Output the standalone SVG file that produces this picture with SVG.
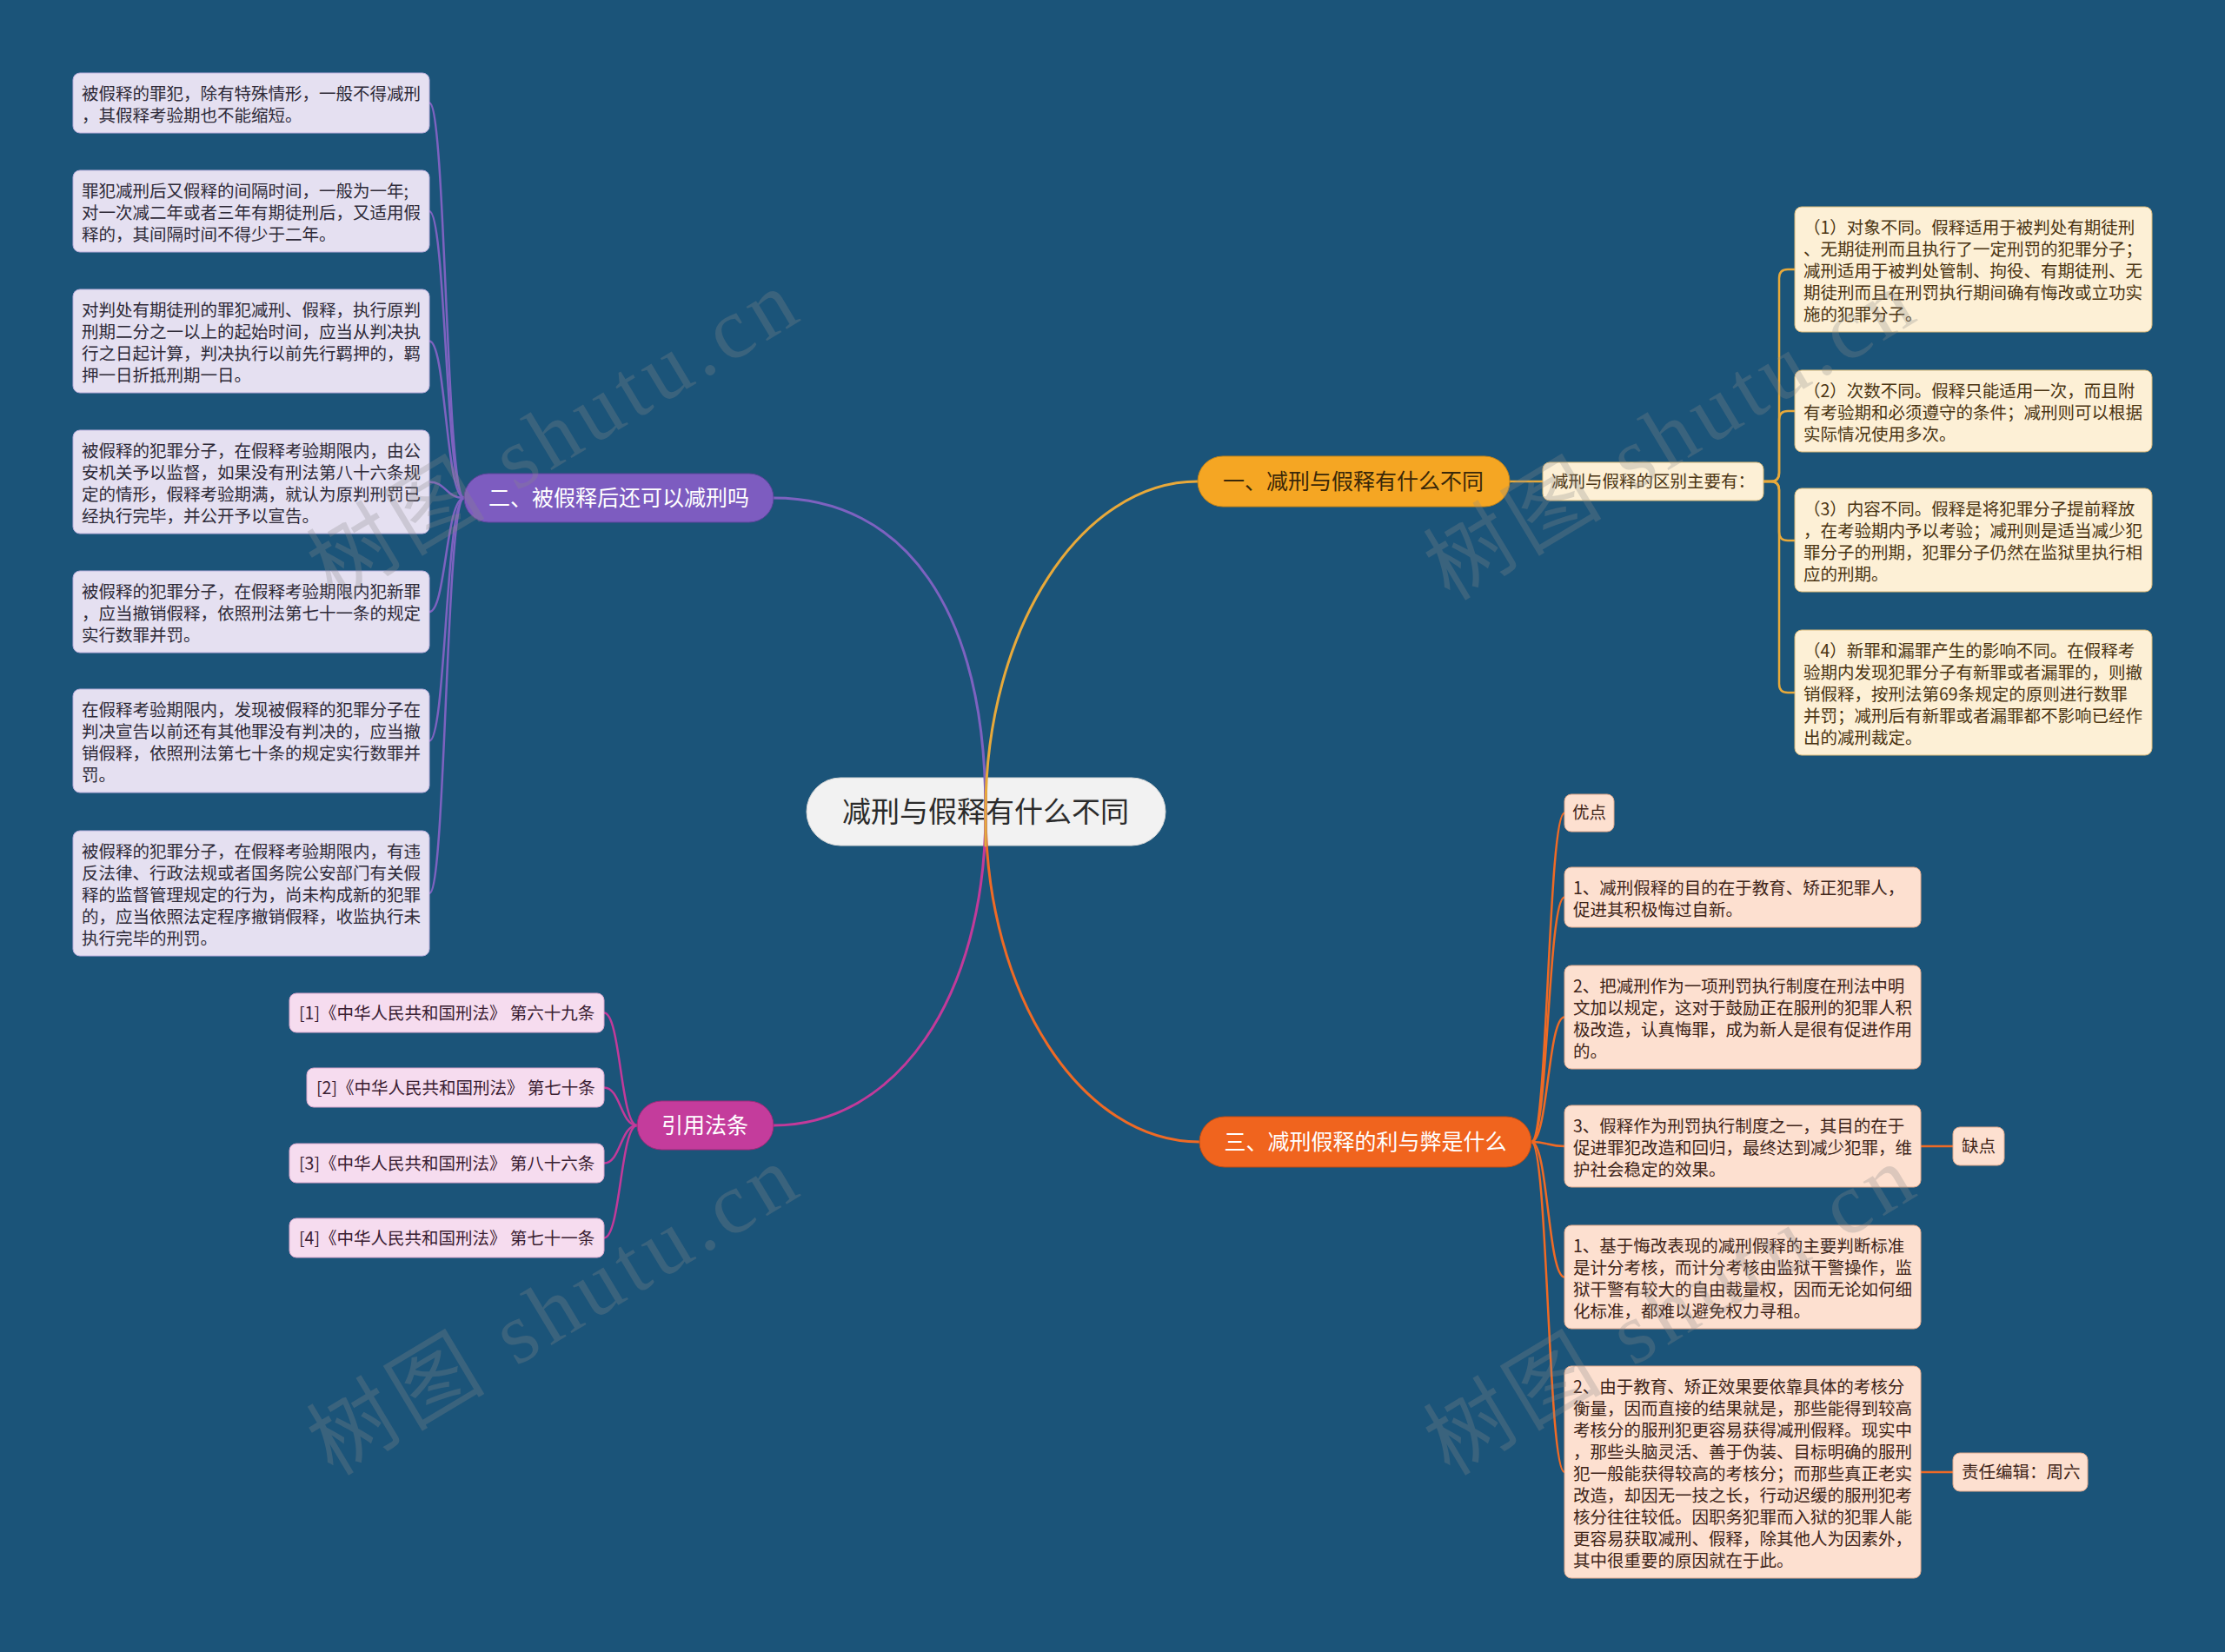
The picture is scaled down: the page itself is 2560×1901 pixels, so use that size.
<svg xmlns="http://www.w3.org/2000/svg" width="2560" height="1901" viewBox="0 0 2560 1901">
<defs>
<style>
text{font-family:"Noto Sans CJK SC","Liberation Sans",sans-serif;}
.leaf{font-size:19.5px;}
.pl rect{fill:#e5e0f1;stroke:#b9addb;stroke-width:1;}
.pl text{fill:#2e2a38;}
.yl rect{fill:#fdf0d6;stroke:#d8b878;stroke-width:1;}
.yl text{fill:#4a3412;}
.ml rect{fill:#f6dcef;stroke:#d9a6cc;stroke-width:1;}
.ml text{fill:#3a2032;}
.ol rect{fill:#fde0d0;stroke:#e2a98c;stroke-width:1;}
.ol text{fill:#3e2418;}
.br text{font-size:25px;}
.cn{fill:none;stroke-width:3;stroke-linecap:round;}
.cb{fill:none;stroke-width:2.5;}
.wm{font-family:"Liberation Serif","Noto Sans CJK SC",serif;font-size:100px;fill:#8a8a8a;opacity:0.28;}
</style>
</defs>
<rect x="0" y="0" width="2560" height="1901" fill="#1b5479"/>

<g id="root">
<rect x="928" y="895" width="413" height="78" rx="39" fill="#f2f2f2" stroke="#d6d6d6" stroke-width="1"/>
<text x="1134" y="946" font-size="33" text-anchor="middle" fill="#2b2b2b">减刑与假释有什么不同</text>
</g>

<g id="connectors">
<path class="cn" stroke="#ef6a25" d="M1134,895 L1134,934 C1134,1145 1244,1314 1380,1314"/>
<path class="cn" stroke="#c23a9a" d="M1134,895 L1134,934 C1134,1150 1030,1295 890,1295"/>
<path class="cn" stroke="#7d62c0" d="M1134,973 L1134,934 C1134,700 1040,573 890,573"/>
<path class="cn" stroke="#e8a93a" d="M1134,973 L1134,934 C1134,723 1244,554 1378,554"/>

<g stroke="#7d62c0" class="cb">
<path d="M534,573 C513,573 513,118.5 494,118.5"/>
<path d="M534,573 C513,573 513,243 494,243"/>
<path d="M534,573 C513,573 513,392.5 494,392.5"/>
<path d="M534,573 C513,573 513,554.5 494,554.5"/>
<path d="M534,573 C513,573 513,704 494,704"/>
<path d="M534,573 C513,573 513,852.5 494,852.5"/>
<path d="M534,573 C513,573 513,1028 494,1028"/>
</g>
<g stroke="#e8a93a" class="cb">
<path d="M1737,554 H1775"/>
<path d="M2029,554 H2037 Q2047,554 2047,544 V320 Q2047,310 2057,310 H2065"/>
<path d="M2029,554 H2037 Q2047,554 2047,544 V483 Q2047,473 2057,473 H2065"/>
<path d="M2029,554 H2037 Q2047,554 2047,564 V612 Q2047,622 2057,622 H2065"/>
<path d="M2029,554 H2037 Q2047,554 2047,564 V787 Q2047,797 2057,797 H2065"/>
</g>
<g stroke="#c23a9a" class="cb">
<path d="M733,1295 C714,1295 714,1165.5 695,1165.5"/>
<path d="M733,1295 C714,1295 714,1251.5 695,1251.5"/>
<path d="M733,1295 C714,1295 714,1338.5 695,1338.5"/>
<path d="M733,1295 C714,1295 714,1424.5 695,1424.5"/>
</g>
<g stroke="#ef6a25" class="cb">
<path d="M1762,1314 C1781,1314 1781,935.5 1800,935.5"/>
<path d="M1762,1314 C1781,1314 1781,1032.5 1800,1032.5"/>
<path d="M1762,1314 C1781,1314 1781,1170.5 1800,1170.5"/>
<path d="M1762,1314 C1781,1314 1781,1319 1800,1319"/>
<path d="M1762,1314 C1781,1314 1781,1469.5 1800,1469.5"/>
<path d="M1762,1314 C1781,1314 1781,1694 1800,1694"/>
<path d="M2210,1319 H2247"/>
<path d="M2210,1694 H2247"/>
</g>
</g>

<g id="b1" class="br">
<rect x="1378" y="525" width="359" height="58" rx="29" fill="#f5a623" stroke="#c98516" stroke-width="1"/>
<text x="1557" y="563" text-anchor="middle" fill="#3a2808">一、减刑与假释有什么不同</text>
</g>
<g id="b2" class="br">
<rect x="534" y="545" width="356" height="56" rx="28" fill="#7d5cc0" stroke="#5f449c" stroke-width="1"/>
<text x="712" y="582" text-anchor="middle" fill="#ffffff" font-size="24">二、被假释后还可以减刑吗</text>
</g>
<g id="b3" class="br">
<rect x="1380" y="1285" width="382" height="58" rx="29" fill="#f0641e" stroke="#c24d12" stroke-width="1"/>
<text x="1571" y="1323" text-anchor="middle" fill="#ffffff">三、减刑假释的利与弊是什么</text>
</g>
<g id="b4" class="br">
<rect x="733" y="1267" width="157" height="56" rx="28" fill="#c43c9c" stroke="#9c2a7a" stroke-width="1"/>
<text x="811" y="1304" text-anchor="middle" fill="#ffffff">引用法条</text>
</g>

<g class="pl leaf">
<g id="p1"><rect x="84" y="84" width="410" height="69" rx="8"/>
<text x="94" y="115"><tspan x="94">被假释的罪犯，除有特殊情形，一般不得减刑</tspan><tspan x="94" dy="25">，其假释考验期也不能缩短。</tspan></text></g>
<g id="p2"><rect x="84" y="196" width="410" height="94" rx="8"/>
<text x="94" y="227"><tspan x="94">罪犯减刑后又假释的间隔时间，一般为一年;</tspan><tspan x="94" dy="25">对一次减二年或者三年有期徒刑后，又适用假</tspan><tspan x="94" dy="25">释的，其间隔时间不得少于二年。</tspan></text></g>
<g id="p3"><rect x="84" y="333" width="410" height="119" rx="8"/>
<text x="94" y="364"><tspan x="94">对判处有期徒刑的罪犯减刑、假释，执行原判</tspan><tspan x="94" dy="25">刑期二分之一以上的起始时间，应当从判决执</tspan><tspan x="94" dy="25">行之日起计算，判决执行以前先行羁押的，羁</tspan><tspan x="94" dy="25">押一日折抵刑期一日。</tspan></text></g>
<g id="p4"><rect x="84" y="495" width="410" height="119" rx="8"/>
<text x="94" y="526"><tspan x="94">被假释的犯罪分子，在假释考验期限内，由公</tspan><tspan x="94" dy="25">安机关予以监督，如果没有刑法第八十六条规</tspan><tspan x="94" dy="25">定的情形，假释考验期满，就认为原判刑罚已</tspan><tspan x="94" dy="25">经执行完毕，并公开予以宣告。</tspan></text></g>
<g id="p5"><rect x="84" y="657" width="410" height="94" rx="8"/>
<text x="94" y="688"><tspan x="94">被假释的犯罪分子，在假释考验期限内犯新罪</tspan><tspan x="94" dy="25">，应当撤销假释，依照刑法第七十一条的规定</tspan><tspan x="94" dy="25">实行数罪并罚。</tspan></text></g>
<g id="p6"><rect x="84" y="793" width="410" height="119" rx="8"/>
<text x="94" y="824"><tspan x="94">在假释考验期限内，发现被假释的犯罪分子在</tspan><tspan x="94" dy="25">判决宣告以前还有其他罪没有判决的，应当撤</tspan><tspan x="94" dy="25">销假释，依照刑法第七十条的规定实行数罪并</tspan><tspan x="94" dy="25">罚。</tspan></text></g>
<g id="p7"><rect x="84" y="956" width="410" height="144" rx="8"/>
<text x="94" y="987"><tspan x="94">被假释的犯罪分子，在假释考验期限内，有违</tspan><tspan x="94" dy="25">反法律、行政法规或者国务院公安部门有关假</tspan><tspan x="94" dy="25">释的监督管理规定的行为，尚未构成新的犯罪</tspan><tspan x="94" dy="25">的，应当依照法定程序撤销假释，收监执行未</tspan><tspan x="94" dy="25">执行完毕的刑罚。</tspan></text></g>
</g>

<g class="yl leaf">
<g id="y0"><rect x="1775" y="532" width="254" height="44" rx="8"/>
<text x="1785" y="561">减刑与假释的区别主要有：</text></g>
<g id="y1"><rect x="2065" y="238" width="411" height="144" rx="8"/>
<text x="2075" y="269"><tspan x="2075">（1）对象不同。假释适用于被判处有期徒刑</tspan><tspan x="2075" dy="25">、无期徒刑而且执行了一定刑罚的犯罪分子；</tspan><tspan x="2075" dy="25">减刑适用于被判处管制、拘役、有期徒刑、无</tspan><tspan x="2075" dy="25">期徒刑而且在刑罚执行期间确有悔改或立功实</tspan><tspan x="2075" dy="25">施的犯罪分子。</tspan></text></g>
<g id="y2"><rect x="2065" y="426" width="411" height="94" rx="8"/>
<text x="2075" y="457"><tspan x="2075">（2）次数不同。假释只能适用一次，而且附</tspan><tspan x="2075" dy="25">有考验期和必须遵守的条件；减刑则可以根据</tspan><tspan x="2075" dy="25">实际情况使用多次。</tspan></text></g>
<g id="y3"><rect x="2065" y="562" width="411" height="119" rx="8"/>
<text x="2075" y="593"><tspan x="2075">（3）内容不同。假释是将犯罪分子提前释放</tspan><tspan x="2075" dy="25">，在考验期内予以考验；减刑则是适当减少犯</tspan><tspan x="2075" dy="25">罪分子的刑期，犯罪分子仍然在监狱里执行相</tspan><tspan x="2075" dy="25">应的刑期。</tspan></text></g>
<g id="y4"><rect x="2065" y="725" width="411" height="144" rx="8"/>
<text x="2075" y="756"><tspan x="2075">（4）新罪和漏罪产生的影响不同。在假释考</tspan><tspan x="2075" dy="25">验期内发现犯罪分子有新罪或者漏罪的，则撤</tspan><tspan x="2075" dy="25">销假释，按刑法第69条规定的原则进行数罪</tspan><tspan x="2075" dy="25">并罚；减刑后有新罪或者漏罪都不影响已经作</tspan><tspan x="2075" dy="25">出的减刑裁定。</tspan></text></g>
</g>

<g class="ml leaf">
<g id="m1"><rect x="333" y="1143" width="362" height="45" rx="8"/>
<text x="344" y="1173">[1]《中华人民共和国刑法》 第六十九条</text></g>
<g id="m2"><rect x="353" y="1229" width="342" height="45" rx="8"/>
<text x="364" y="1259">[2]《中华人民共和国刑法》 第七十条</text></g>
<g id="m3"><rect x="333" y="1316" width="362" height="45" rx="8"/>
<text x="344" y="1346">[3]《中华人民共和国刑法》 第八十六条</text></g>
<g id="m4"><rect x="333" y="1402" width="362" height="45" rx="8"/>
<text x="344" y="1432">[4]《中华人民共和国刑法》 第七十一条</text></g>
</g>

<g class="ol leaf">
<g id="o0"><rect x="1800" y="914" width="57" height="43" rx="8"/>
<text x="1809" y="942">优点</text></g>
<g id="o1"><rect x="1800" y="998" width="410" height="69" rx="8"/>
<text x="1810" y="1029"><tspan x="1810">1、减刑假释的目的在于教育、矫正犯罪人，</tspan><tspan x="1810" dy="25">促进其积极悔过自新。</tspan></text></g>
<g id="o2"><rect x="1800" y="1111" width="410" height="119" rx="8"/>
<text x="1810" y="1142"><tspan x="1810">2、把减刑作为一项刑罚执行制度在刑法中明</tspan><tspan x="1810" dy="25">文加以规定，这对于鼓励正在服刑的犯罪人积</tspan><tspan x="1810" dy="25">极改造，认真悔罪，成为新人是很有促进作用</tspan><tspan x="1810" dy="25">的。</tspan></text></g>
<g id="o3"><rect x="1800" y="1272" width="410" height="94" rx="8"/>
<text x="1810" y="1303"><tspan x="1810">3、假释作为刑罚执行制度之一，其目的在于</tspan><tspan x="1810" dy="25">促进罪犯改造和回归，最终达到减少犯罪，维</tspan><tspan x="1810" dy="25">护社会稳定的效果。</tspan></text></g>
<g id="o4"><rect x="2247" y="1297" width="59" height="44" rx="8"/>
<text x="2257" y="1326">缺点</text></g>
<g id="o5"><rect x="1800" y="1410" width="410" height="119" rx="8"/>
<text x="1810" y="1441"><tspan x="1810">1、基于悔改表现的减刑假释的主要判断标准</tspan><tspan x="1810" dy="25">是计分考核，而计分考核由监狱干警操作，监</tspan><tspan x="1810" dy="25">狱干警有较大的自由裁量权，因而无论如何细</tspan><tspan x="1810" dy="25">化标准，都难以避免权力寻租。</tspan></text></g>
<g id="o6"><rect x="1800" y="1572" width="410" height="244" rx="8"/>
<text x="1810" y="1603"><tspan x="1810">2、由于教育、矫正效果要依靠具体的考核分</tspan><tspan x="1810" dy="25">衡量，因而直接的结果就是，那些能得到较高</tspan><tspan x="1810" dy="25">考核分的服刑犯更容易获得减刑假释。现实中</tspan><tspan x="1810" dy="25">，那些头脑灵活、善于伪装、目标明确的服刑</tspan><tspan x="1810" dy="25">犯一般能获得较高的考核分；而那些真正老实</tspan><tspan x="1810" dy="25">改造，却因无一技之长，行动迟缓的服刑犯考</tspan><tspan x="1810" dy="25">核分往往较低。因职务犯罪而入狱的犯罪人能</tspan><tspan x="1810" dy="25">更容易获取减刑、假释，除其他人为因素外，</tspan><tspan x="1810" dy="25">其中很重要的原因就在于此。</tspan></text></g>
<g id="o7"><rect x="2247" y="1672" width="155" height="44" rx="8"/>
<text x="2257" y="1701">责任编辑：周六</text></g>
</g>

<g id="watermarks">
<text class="wm" transform="translate(653,530) rotate(-31)" text-anchor="middle" textLength="630" lengthAdjust="spacing">树图 shutu.cn</text>
<text class="wm" transform="translate(1938,530) rotate(-31)" text-anchor="middle" textLength="630" lengthAdjust="spacing">树图 shutu.cn</text>
<text class="wm" transform="translate(653,1537) rotate(-31)" text-anchor="middle" textLength="630" lengthAdjust="spacing">树图 shutu.cn</text>
<text class="wm" transform="translate(1938,1537) rotate(-31)" text-anchor="middle" textLength="630" lengthAdjust="spacing">树图 shutu.cn</text>
</g>
</svg>
